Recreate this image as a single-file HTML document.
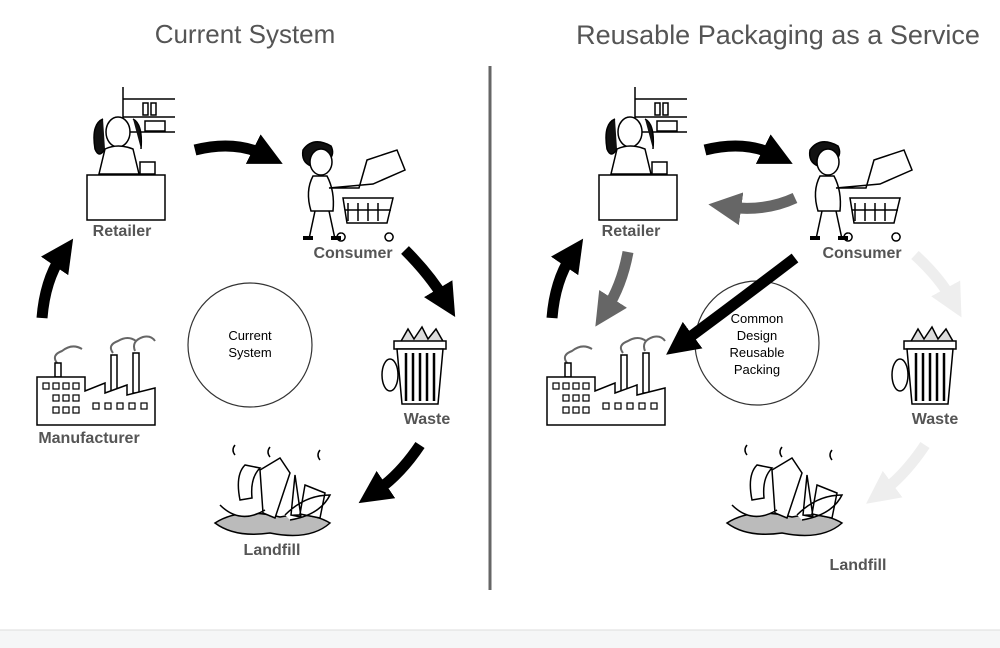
<!DOCTYPE html>
<html><head><meta charset="utf-8"><style>
body{margin:0;width:1000px;height:648px;background:#fff;overflow:hidden;font-family:"Liberation Sans",sans-serif}
svg{position:absolute;left:0;top:0}
</style></head><body>
<svg width="1000" height="648" viewBox="0 0 1000 648" font-family="Liberation Sans, sans-serif">
<defs>
<marker id="hb" markerWidth="3" markerHeight="3" refX="1.2" refY="1.5" orient="auto" markerUnits="strokeWidth"><path d="M0,0 L3,1.5 L0,3 Z" fill="#000"/></marker>
<marker id="hg" markerWidth="3" markerHeight="3" refX="1.2" refY="1.5" orient="auto" markerUnits="strokeWidth"><path d="M0,0 L3,1.5 L0,3 Z" fill="#666"/></marker>
<marker id="hl" markerWidth="3" markerHeight="3" refX="1.2" refY="1.5" orient="auto" markerUnits="strokeWidth"><path d="M0,0 L3,1.5 L0,3 Z" fill="#eee"/></marker>
<g id="ret" fill="none" stroke="#000" stroke-width="1.5">
<line x1="38" y1="0" x2="38" y2="45"/><line x1="38" y1="12" x2="90" y2="12"/><line x1="38" y1="30" x2="90" y2="30"/><line x1="38" y1="45" x2="90" y2="45"/>
<rect x="58" y="16" width="5" height="12"/><rect x="66" y="16" width="5" height="12"/><rect x="60" y="34" width="20" height="10"/>
<path d="M18,32 q-12,5 -8,30 q4,10 10,0 M48,32 q10,5 8,30" fill="#111"/>
<ellipse cx="33" cy="45" rx="12" ry="15" fill="#fff"/>
<path d="M20,62 q13,-6 28,0 l6,25 h-40 z" fill="#fff"/>
<rect x="2" y="88" width="78" height="45" fill="#fff"/><rect x="55" y="75" width="15" height="12"/>
</g>
<g id="con" fill="none" stroke="#000" stroke-width="1.5">
<path d="M10,12 q10,-14 28,-4 q4,8 -2,14 q-12,-2 -18,6 q-10,-4 -8,-16z" fill="#111"/>
<ellipse cx="28" cy="24" rx="11" ry="13" fill="#fff"/>
<path d="M20,38 q-8,15 -2,35 h22 q2,-20 -6,-35z" fill="#fff"/>
<path d="M22,73 l-6,28 M36,73 l6,28"/><path d="M10,100 h10 M38,100 h10" stroke-width="4"/>
<path d="M36,50 h30 l8,-28 l30,-10 l8,20 l-32,14z" fill="#fff"/>
<path d="M50,60 h50 l-6,25 h-40z M48,95 a4,4 0 1 0 .1 0 M96,95 a4,4 0 1 0 .1 0"/>
<path d="M55,65 v18 M65,65 v18 M75,65 v18 M85,65 v18 M52,72 h46"/>
</g>
<g id="was" fill="none" stroke="#000" stroke-width="1.5">
<path d="M20,18 l8,-14 l6,10 l8,-12 l6,12 l8,-10 l8,14 z" fill="#ddd"/>
<rect x="14" y="16" width="52" height="8" fill="#fff"/>
<path d="M17,24 l5,55 h36 l5,-55 z" fill="#fff"/>
<path d="M26,28 v48 M33,28 v48 M40,28 v48 M47,28 v48 M54,28 v48" stroke-width="2.5"/>
<ellipse cx="10" cy="50" rx="8" ry="16" fill="#fff"/>
</g>
<g id="lan" fill="none" stroke="#000" stroke-width="1.5">
<path d="M5,78 q20,15 55,10 q40,8 60,-10 q-20,-12 -50,-6 q-40,-10 -65,6z" fill="#bbb"/>
<path d="M10,60 q20,20 45,5 M35,20 q-10,10 -5,35 l12,-2 q-2,-20 8,-30z M50,25 l20,-12 l10,15 l-15,45 l-12,-5 z M85,30 l-4,40 l10,2 z M95,40 l20,8 l-5,25 l-20,-4 z M75,70 q20,-20 45,-20 q-10,20 -40,25" fill="#fff"/>
<path d="M25,0 q-4,5 0,10 M60,2 q-4,5 0,10 M110,5 q-4,5 0,10"/>
</g>
<g id="man" fill="none" stroke="#000" stroke-width="1.5">
<path d="M22,30 q-6,-8 5,-12 q10,-8 20,-2 M78,20 q-6,-8 5,-12 q10,-6 18,0 M100,18 q-4,-10 8,-14 q8,-2 12,4" stroke="#666" stroke-width="2"/>
<rect x="20" y="30" width="6" height="14"/><rect x="76" y="22" width="6" height="40"/><rect x="98" y="20" width="6" height="40"/>
<path d="M2,92 V44 H50 V58 L70,50 V60 L92,52 V62 L120,55 V92 Z" fill="#fff"/>
<g stroke-width="1.2"><rect x="8" y="50" width="6" height="6"/><rect x="18" y="50" width="6" height="6"/><rect x="28" y="50" width="6" height="6"/><rect x="38" y="50" width="6" height="6"/><rect x="18" y="62" width="6" height="6"/><rect x="28" y="62" width="6" height="6"/><rect x="38" y="62" width="6" height="6"/><rect x="18" y="74" width="6" height="6"/><rect x="28" y="74" width="6" height="6"/><rect x="38" y="74" width="6" height="6"/><rect x="58" y="70" width="6" height="6"/><rect x="70" y="70" width="6" height="6"/><rect x="82" y="70" width="6" height="6"/><rect x="94" y="70" width="6" height="6"/><rect x="106" y="70" width="6" height="6"/></g>
</g>
</defs>

<text x="245" y="43" font-size="26" fill="#555" text-anchor="middle">Current System</text>
<text x="778" y="44" font-size="27" fill="#555" text-anchor="middle">Reusable Packaging as a Service</text>
<line x1="490" y1="66" x2="490" y2="590" stroke="#666" stroke-width="3"/>
<rect x="0" y="630" width="1000" height="18" fill="#f5f6f7"/><line x1="0" y1="630" x2="1000" y2="630" stroke="#ddd"/>

<use href="#ret" x="85" y="87"/>
<use href="#con" x="293" y="138"/>
<use href="#was" x="380" y="325"/>
<use href="#lan" x="210" y="445"/>
<use href="#man" x="35" y="333"/>
<g font-weight="bold" font-size="16" fill="#555" text-anchor="middle">
<text x="122" y="236">Retailer</text><text x="353" y="258">Consumer</text><text x="427" y="424">Waste</text><text x="272" y="555">Landfill</text><text x="89" y="443">Manufacturer</text>
<text x="631" y="236">Retailer</text><text x="862" y="258">Consumer</text><text x="935" y="424">Waste</text><text x="858" y="570">Landfill</text>
</g>
<circle cx="250" cy="345" r="62" fill="#fff" stroke="#333" stroke-width="1.2"/>
<text x="250" y="340" font-size="13" text-anchor="middle">Current</text><text x="250" y="357" font-size="13" text-anchor="middle">System</text>
<g fill="none" stroke="#000" stroke-width="11">
<path d="M195,150 Q235,140 265,155" marker-end="url(#hb)"/>
<path d="M405,250 Q430,275 445,300" marker-end="url(#hb)"/>
<path d="M420,445 Q400,475 375,492" marker-end="url(#hb)"/>
<path d="M42,318 Q45,280 62,255" marker-end="url(#hb)"/>
</g>

<use href="#ret" x="597" y="87"/>
<use href="#con" x="800" y="138"/>
<use href="#was" x="890" y="325"/>
<use href="#lan" x="722" y="445"/>
<use href="#man" x="545" y="333"/>
<circle cx="757" cy="343" r="62" fill="#fff" stroke="#333" stroke-width="1.2"/>
<g font-size="13" text-anchor="middle"><text x="757" y="323">Common</text><text x="757" y="340">Design</text><text x="757" y="357">Reusable</text><text x="757" y="374">Packing</text></g>
<g fill="none" stroke-width="11">
<path d="M705,150 Q745,140 775,155" stroke="#000" marker-end="url(#hb)"/>
<path d="M795,198 Q765,212 728,207" stroke="#666" marker-end="url(#hg)"/>
<path d="M628,252 Q622,285 606,310" stroke="#666" marker-end="url(#hg)"/>
<path d="M795,258 Q740,300 682,343" stroke="#000" marker-end="url(#hb)"/>
<path d="M552,318 Q555,280 572,255" stroke="#000" marker-end="url(#hb)"/>
<path d="M915,255 Q940,278 952,300" stroke="#eee" marker-end="url(#hl)"/>
<path d="M925,445 Q905,475 882,492" stroke="#eee" marker-end="url(#hl)"/>
</g>
</svg>
</body></html>
